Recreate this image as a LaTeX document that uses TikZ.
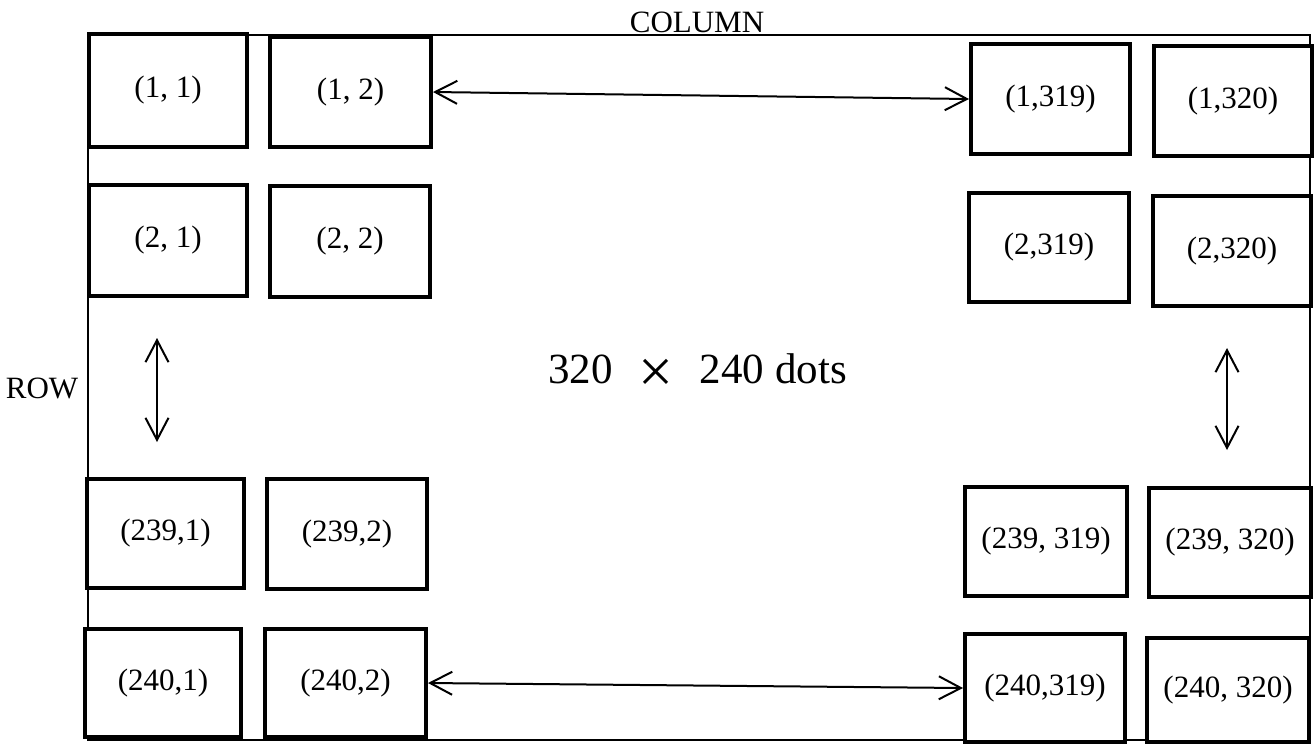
\documentclass[tikz,border=0pt]{standalone}
\usepackage{fontspec}
\setmainfont{Liberation Serif}
\usetikzlibrary{arrows.meta}
\begin{document}
\begin{tikzpicture}[x=0.5pt,y=-0.5pt,
  cell/.style={draw, line width=2pt, fill=white, inner sep=0pt,
    font=\fontsize{15.5}{18}\selectfont},
  sz/.style 2 args={minimum width=#1*0.5pt, minimum height=#2*0.5pt},
  frameline/.style={line width=1.2pt},
  lbl/.style={inner sep=0pt, font=\fontsize{15.5}{18}\selectfont},
  dbl/.style={line width=1pt,
    {Straight Barb[length=11pt,width=11.5pt,line width=1pt]}-{Straight Barb[length=11pt,width=11.5pt,line width=1pt]}}]
\useasboundingbox (0,0) rectangle (1315,746);
% outer frame
\draw[frameline] (88,35) rectangle (1310,740);
% cells
\node[cell, sz={158}{113}] (b11) at (168,90.5) {(1, 1)};
\node[cell, sz={161}{110}] (b12) at (350.5,92) {(1, 2)};
\node[cell, sz={159}{110}] (b1a) at (1050.5,99) {(1,319)};
\node[cell, sz={158}{110}] (b1b) at (1233,101) {(1,320)};
\node[cell, sz={158}{111}] (b21) at (168,240.5) {(2, 1)};
\node[cell, sz={160}{111}] (b22) at (350,241.5) {(2, 2)};
\node[cell, sz={160}{109}] (b2a) at (1049,247.5) {(2,319)};
\node[cell, sz={158}{110}] (b2b) at (1232,251) {(2,320)};
\node[cell, sz={157}{109}] (b31) at (165.5,533.5) {(239,1)};
\node[cell, sz={160}{110}] (b32) at (347,534) {(239,2)};
\node[cell, sz={162}{109}] (b3a) at (1046,541.5) {(239, 319)};
\node[cell, sz={162}{109}] (b3b) at (1230,542.5) {(239, 320)};
\node[cell, sz={156}{108}] (b41) at (163,683) {(240,1)};
\node[cell, sz={161}{108}] (b42) at (345.5,683) {(240,2)};
\node[cell, sz={160}{108}] (b4a) at (1045,688) {(240,319)};
\node[cell, sz={162}{104}] (b4b) at (1228,690) {(240, 320)};
% labels
\node[lbl, anchor=base] (col) at (697,32) {COLUMN};
\node[lbl, anchor=base] (row) at (42,398) {ROW};
\node[inner sep=0pt, anchor=base west, font=\fontsize{21.5}{25}\selectfont] (dots) at (548,383)
  {320\hspace{13pt}\raisebox{-4.5pt}{\fontsize{31}{31}\selectfont ×}\hspace{13pt}240 dots};
% arrows
\draw[dbl] (b12.east) -- (b1a.west);
\draw[dbl] (b42.east) -- (b4a.west);
\coordinate (lt) at (157,338);
\coordinate (lb) at (157,442);
\coordinate (rt) at (1227,348);
\coordinate (rb) at (1227,450);
\draw[dbl] (lt) -- (lb);
\draw[dbl] (rt) -- (rb);
\end{tikzpicture}
\end{document}
